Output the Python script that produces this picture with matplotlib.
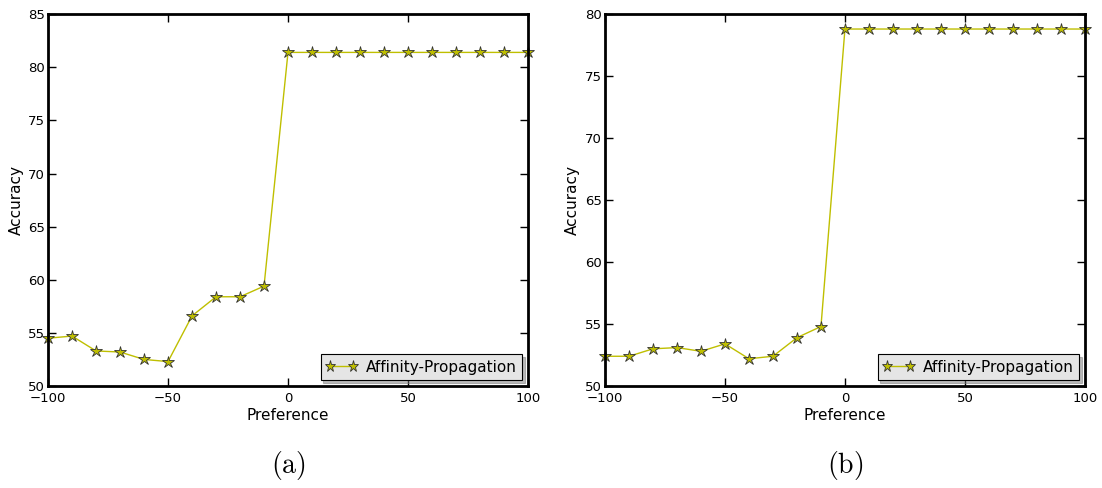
import matplotlib
matplotlib.use('Agg')
import matplotlib.pyplot as plt
import numpy as np

plt.rcParams['mathtext.fontset'] = 'cm'
plt.rcParams['font.size'] = 11

preference = list(range(-100, 101, 10))

# (a)
accA = [54.5, 54.7, 53.3, 53.2, 52.5, 52.3, 56.6, 58.4, 58.4, 59.4,
        81.4, 81.4, 81.4, 81.4, 81.4, 81.4, 81.4, 81.4, 81.4, 81.4, 81.4]
# (b)
accB = [52.4, 52.4, 53.0, 53.1, 52.8, 53.4, 52.2, 52.4, 53.9, 54.8,
        78.8, 78.8, 78.8, 78.8, 78.8, 78.8, 78.8, 78.8, 78.8, 78.8, 78.8]

ylimA = (50, 85)
ylimB = (50, 80)
captions = ['(a)', '(b)']

fig = plt.figure(figsize=(11.02, 4.88), dpi=100)
axA = fig.add_axes([0.0436, 0.209, 0.4355, 0.762])
axB = fig.add_axes([0.549, 0.209, 0.4355, 0.762])

for ax, acc, ylim, cap in zip([axA, axB], [accA, accB], [ylimA, ylimB], captions):
    ax.plot(preference, acc, color='y', marker='*', markersize=9,
            markerfacecolor='y', markeredgecolor='#333333', markeredgewidth=0.6,
            linewidth=1, label='Affinity-Propagation', clip_on=False)
    ax.set_xlim(-100, 100)
    ax.set_ylim(*ylim)
    ax.set_xticks([-100, -50, 0, 50, 100])
    ax.set_xlabel('Preference', labelpad=2)
    ax.set_ylabel('Accuracy', labelpad=3)
    ax.tick_params(direction='in', top=True, right=True, length=6, width=1,
                   labelsize=9.5)
    ax.tick_params(axis='y', pad=2.5)
    ax.tick_params(axis='x', pad=4.5)
    for s in ax.spines.values():
        s.set_linewidth(2)
    leg = ax.legend(loc='lower right', numpoints=2, shadow={'color': '#777777'},
                    fancybox=False, facecolor='#e5e5e5', framealpha=1,
                    edgecolor='black', borderaxespad=0.4, handlelength=2.1,
                    markerscale=0.9, borderpad=0.35, handletextpad=0.5)
    leg.get_frame().set_linewidth(0.8)
    ax.text(0.5, -0.215, r'$\mathrm{' + cap + '}$', transform=ax.transAxes,
            ha='center', va='center', fontsize=20)

plt.savefig('out.png', dpi=100)
